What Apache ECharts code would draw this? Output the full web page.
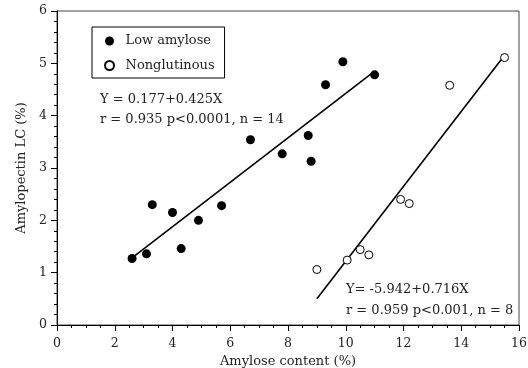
<!DOCTYPE html>
<html>
<head>
<meta charset="utf-8">
<script src="https://cdn.jsdelivr.net/npm/echarts@6/dist/echarts.min.js"></script>
<style>
  html, body { margin: 0; padding: 0; background: #fff; }
  #chart { width: 528px; height: 368px; }
</style>
</head>
<body>
<div id="chart"></div>
<script>
// Low-amylose lines: amylose content (%) vs amylopectin LC (%)
const lowAmyloseX = [2.6, 3.1, 3.3, 4.0, 4.3, 4.9, 5.7, 6.7, 7.8, 8.7, 8.8, 9.3, 9.9, 11.0];
const lowAmyloseY = [1.27, 1.36, 2.30, 2.15, 1.46, 2.00, 2.28, 3.54, 3.27, 3.62, 3.13, 4.59, 5.03, 4.78];

// Nonglutinous lines
const nonglutX = [9.0, 10.05, 10.5, 10.8, 11.9, 12.2, 13.6, 15.5];
const nonglutY = [1.06, 1.24, 1.44, 1.34, 2.40, 2.32, 4.58, 5.11];

// Fitted regressions: Y = a + bX, drawn over the stated x range
const lowFit = { a: 0.177, b: 0.425, from: 2.7, to: 10.9 };
const nonglutFit = { a: -5.942, b: 0.716, from: 9.0, to: 15.5 };

const xTicks = { min: 0, max: 16, step: 2 };
const yTicks = { min: 0, max: 6, step: 1 };

const lowLabel = ['Y = 0.177+0.425X', 'r = 0.935 p<0.0001, n = 14'];
const nonglutLabel = ['Y= -5.942+0.716X', 'r = 0.959 p<0.001, n = 8'];

const FONT = 'DejaVu Serif';

function pairs(xs, ys) { return xs.map((x, i) => [x, ys[i]]); }
function fitLine(f) { return [[f.from, f.a + f.b * f.from], [f.to, f.a + f.b * f.to]]; }

const chart = echarts.init(document.getElementById('chart'), null, { renderer: 'canvas' });

const axisCommon = {
  axisLine: { show: true, onZero: false, lineStyle: { color: '#000', width: 1 } },
  axisTick: { show: true, inside: false, length: 6, lineStyle: { color: '#000', width: 1 } },
  minorTick: { show: true, length: 3, lineStyle: { color: '#000', width: 1 } },
  splitLine: { show: false },
  axisLabel: { color: '#222', fontFamily: FONT, fontSize: 12.5, margin: 10 },
  nameTextStyle: { color: '#222', fontFamily: FONT, fontSize: 13 }
};

chart.setOption({
  animation: false,
  backgroundColor: '#fff',
  grid: {
    left: 57, right: 9, top: 11, bottom: 43,
    outerBoundsMode: 'none', containLabel: false,
    show: true, borderColor: '#444', borderWidth: 1, backgroundColor: 'transparent'
  },
  legend: {
    data: ['Low amylose', 'Nonglutinous'],
    orient: 'vertical',
    left: 92, top: 27,
    itemWidth: 22, itemHeight: 9, itemGap: 9.5,
    padding: [6.5, 10, 5, 12],
    borderColor: '#000', borderWidth: 1,
    backgroundColor: '#fff',
    textStyle: { fontFamily: FONT, fontSize: 13, color: '#222', lineHeight: 15 }
  },
  xAxis: Object.assign({}, axisCommon, {
    type: 'value', min: xTicks.min, max: xTicks.max, interval: xTicks.step,
    axisLabel: Object.assign({}, axisCommon.axisLabel, { margin: 12 }),
    minorTick: Object.assign({}, axisCommon.minorTick, { splitNumber: 4 }),
    name: 'Amylose content (%)', nameLocation: 'middle', nameGap: 26
  }),
  yAxis: Object.assign({}, axisCommon, {
    type: 'value', min: yTicks.min, max: yTicks.max, interval: yTicks.step,
    minorTick: Object.assign({}, axisCommon.minorTick, { splitNumber: 5 }),
    name: 'Amylopectin LC (%)', nameLocation: 'middle', nameGap: 21, nameRotate: 90
  }),
  series: [
    {
      name: 'Low amylose', type: 'scatter', symbol: 'circle', symbolSize: 9,
      itemStyle: { color: '#000', borderColor: '#000', borderWidth: 0, opacity: 1 },
      data: pairs(lowAmyloseX, lowAmyloseY), z: 3
    },
    {
      name: 'Nonglutinous', type: 'scatter', symbol: 'circle', symbolSize: 8,
      itemStyle: { color: '#fff', borderColor: '#000', borderWidth: 1, opacity: 1 },
      data: pairs(nonglutX, nonglutY), z: 3
    },
    {
      name: 'Low amylose fit', type: 'line', symbol: 'none', silent: true,
      lineStyle: { color: '#000', width: 1.6 }, data: fitLine(lowFit), z: 2
    },
    {
      name: 'Nonglutinous fit', type: 'line', symbol: 'none', silent: true,
      lineStyle: { color: '#000', width: 1.6 }, data: fitLine(nonglutFit), z: 2
    }
  ],
  graphic: [
    { type: 'text', left: 100, top: 90, style: { text: lowLabel.join('\n'), fontFamily: FONT, fontSize: 13, lineHeight: 20, fill: '#222' } },
    { type: 'text', left: 346, top: 279, style: { text: nonglutLabel.join('\n'), fontFamily: FONT, fontSize: 13, lineHeight: 21, fill: '#222' } }
  ]
});
</script>
</body>
</html>
